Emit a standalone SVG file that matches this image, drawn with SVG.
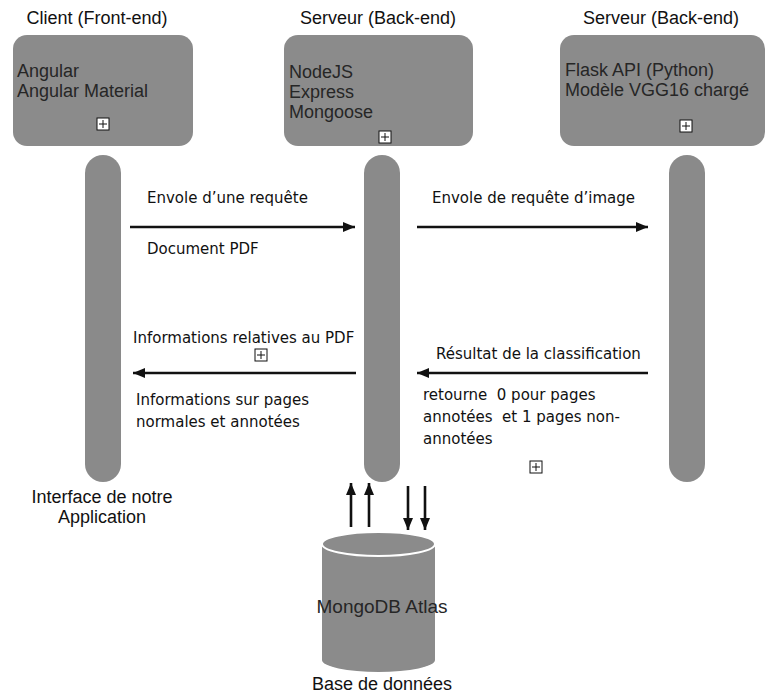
<svg xmlns="http://www.w3.org/2000/svg" width="767" height="697" viewBox="0 0 767 697">
<style>
.box{fill:#8b8b8b}
.pillar{fill:#8a8a8a}
.title{font-family:"Liberation Sans",Arial,sans-serif;font-size:18px;fill:#111;text-anchor:middle}
.btxt{font-family:"Liberation Sans",Arial,sans-serif;font-size:18px;fill:#262626}
.hand{font-family:"DejaVu Sans",sans-serif;font-size:15px;fill:#111;white-space:pre}
.conn{stroke:#111;stroke-width:2.6;fill:none}
</style>
<defs>
<marker id="ah" markerUnits="userSpaceOnUse" markerWidth="14" markerHeight="12" refX="12" refY="5" orient="auto">
<path d="M0,0 L12,5 L0,10 Z" fill="#111"/>
</marker>
<g id="plus">
<rect x="-6" y="-6" width="12" height="12" fill="#fff" stroke="#111" stroke-width="1"/>
<path d="M0,-4 V4 M-4,0 H4" stroke="#111" stroke-width="1"/>
</g>
</defs>
<rect width="767" height="697" fill="#fff"/>

<g id="client">
<text class="title" x="97" y="24">Client (Front-end)</text>
<rect class="box" x="13" y="35" width="180" height="111" rx="14"/>
<text class="btxt" x="17" y="77">Angular</text>
<text class="btxt" x="17" y="97">Angular Material</text>
<use href="#plus" x="103" y="124"/>
</g>

<g id="serveur-node">
<text class="title" x="378" y="24">Serveur (Back-end)</text>
<rect class="box" x="284" y="35" width="189" height="111" rx="14"/>
<text class="btxt" x="289" y="78">NodeJS</text>
<text class="btxt" x="289" y="98">Express</text>
<text class="btxt" x="289" y="118">Mongoose</text>
<use href="#plus" x="385" y="137"/>
</g>

<g id="serveur-flask">
<text class="title" x="661" y="24">Serveur (Back-end)</text>
<rect class="box" x="560" y="35" width="205" height="111" rx="14"/>
<text class="btxt" x="565" y="76">Flask API (Python)</text>
<text class="btxt" x="565" y="96">Modèle VGG16 chargé</text>
<use href="#plus" x="686" y="126"/>
</g>

<g id="lifeline-client">
<rect class="pillar" x="85" y="155" width="36" height="327" rx="18"/>
<text class="title" x="102" y="503">Interface de notre</text>
<text class="title" x="102" y="523">Application</text>
</g>

<g id="lifeline-node">
<rect class="pillar" x="364" y="155" width="36" height="327" rx="18"/>
</g>

<g id="lifeline-flask">
<rect class="pillar" x="669" y="155" width="36" height="327" rx="18"/>
</g>

<g id="database">
<path class="box" d="M322,544 L322,660 A56.5,12 0 0 0 435,660 L435,544 Z"/>
<ellipse cx="378.5" cy="544" rx="56.5" ry="12" fill="#8b8b8b" stroke="#fff" stroke-width="2"/>
<text class="btxt" x="382" y="613" text-anchor="middle" style="font-size:19px">MongoDB Atlas</text>
<text class="title" x="382" y="690">Base de données</text>
</g>

<g id="connectors">
<line class="conn" x1="130" y1="227" x2="355" y2="227" marker-end="url(#ah)"/>
<line class="conn" x1="417" y1="227" x2="648" y2="227" marker-end="url(#ah)"/>
<line class="conn" x1="356" y1="373" x2="133" y2="373" marker-end="url(#ah)"/>
<line class="conn" x1="648" y1="373" x2="417" y2="373" marker-end="url(#ah)"/>
<line class="conn" x1="351" y1="527" x2="351" y2="483" marker-end="url(#ah)"/>
<line class="conn" x1="369" y1="527" x2="369" y2="483" marker-end="url(#ah)"/>
<line class="conn" x1="408" y1="486" x2="408" y2="530" marker-end="url(#ah)"/>
<line class="conn" x1="425" y1="486" x2="425" y2="530" marker-end="url(#ah)"/>
</g>

<g id="labels">
<text class="hand" x="147" y="203">Envole d’une requête</text>
<text class="hand" x="147" y="254">Document PDF</text>
<text class="hand" x="432" y="203">Envole de requête d’image</text>
<text class="hand" x="133" y="343">Informations relatives au PDF</text>
<use href="#plus" x="261" y="355"/>
<text class="hand" x="136" y="405">Informations sur pages</text>
<text class="hand" x="136" y="427">normales et annotées</text>
<text class="hand" x="436" y="359">Résultat de la classification</text>
<text class="hand" x="423" y="400">retourne  0 pour pages</text>
<text class="hand" x="423" y="422">annotées  et 1 pages non-</text>
<text class="hand" x="423" y="444">annotées</text>
<use href="#plus" x="536" y="467"/>
</g>
</svg>
